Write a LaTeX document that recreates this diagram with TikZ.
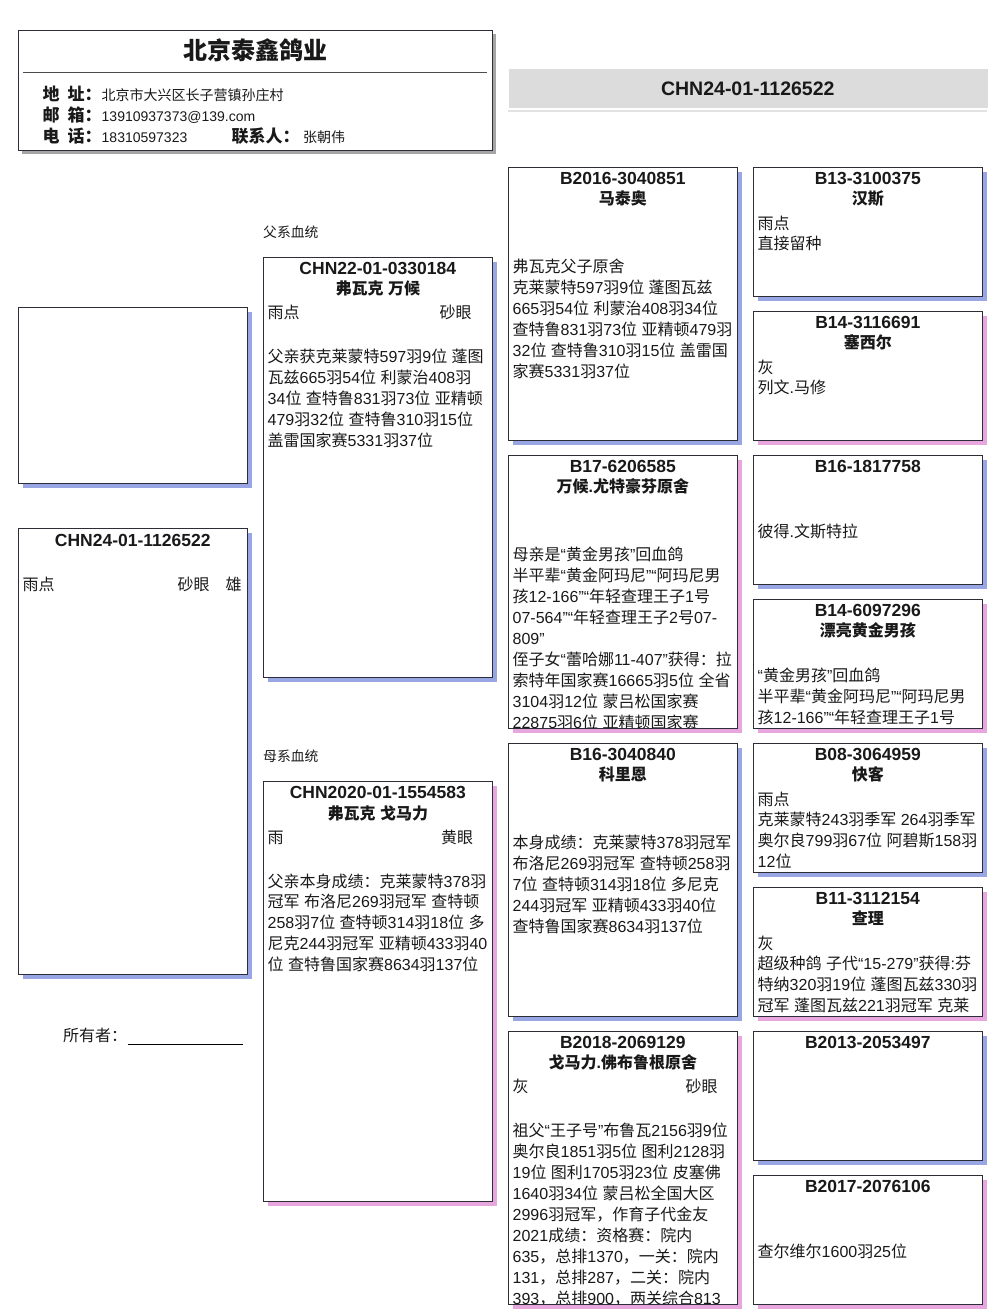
\documentclass[tikz,border=0pt]{standalone}
\usepackage{fontspec}
\setmainfont{Liberation Sans}
\newfontfamily\cjkfont{Noto Sans CJK SC}
\usetikzlibrary{shadows}
\XeTeXinterchartokenstate=1
\newXeTeXintercharclass\cjkcls
\newcount\cjkc
\cjkc="3000
\loop\XeTeXcharclass\cjkc=\cjkcls\ifnum\cjkc<"303F \advance\cjkc by 1 \repeat
\cjkc="4E00
\loop\XeTeXcharclass\cjkc=\cjkcls\ifnum\cjkc<"9FFF \advance\cjkc by 1 \repeat
\cjkc="FF00
\loop\XeTeXcharclass\cjkc=\cjkcls\ifnum\cjkc<"FFEF \advance\cjkc by 1 \repeat
\XeTeXinterchartoks 0 \cjkcls = {\cjkfont}
\XeTeXinterchartoks 4095 \cjkcls = {\cjkfont}
\XeTeXinterchartoks \cjkcls 0 = {\rmfamily}
\XeTeXinterchartoks \cjkcls 4095 = {\rmfamily}
\definecolor{shblue}{RGB}{152,166,228}
\definecolor{shpink}{RGB}{232,166,222}
\definecolor{shgray}{RGB}{165,165,165}
\definecolor{bordercol}{RGB}{45,45,55}
\definecolor{barfill}{RGB}{220,220,220}
\definecolor{barline}{RGB}{226,226,226}
\definecolor{txt}{RGB}{25,25,25}
\tikzset{
  pbox/.style={draw=bordercol, line width=0.9pt, fill=white, anchor=north west, inner sep=0pt, outer sep=0pt},
  boxline/.style={draw=bordercol, line width=0.9pt},
  bsh/.style={drop shadow={shadow xshift=4.5pt, shadow yshift=-4.5pt, fill=shblue, opacity=1}},
  psh/.style={drop shadow={shadow xshift=4.5pt, shadow yshift=-4.5pt, fill=shpink, opacity=1}},
  gsh/.style={drop shadow={shadow xshift=4pt, shadow yshift=-4.5pt, fill=shgray, opacity=1}},
  idtxt/.style={anchor=base, inner sep=0pt, text=txt, font=\bfseries\fontsize{17.5}{21}\selectfont},
  nametxt/.style={anchor=base, inner sep=0pt, text=txt, font=\bfseries\fontsize{16}{21}\selectfont},
  bodytxt/.style={anchor=base west, inner sep=0pt, text=txt, font=\fontsize{16}{20.9}\selectfont},
  para/.style={anchor=north west, inner sep=0pt, align=left, text=txt, font=\fontsize{16}{20.9}\selectfont},
  hlabel/.style={anchor=base west, inner sep=0pt, text=txt, font={\bfseries\fontsize{17}{20}\selectfont\spaceskip=8pt}},
  hvalue/.style={anchor=base west, inner sep=0pt, text=txt, font=\fontsize{14}{17}\selectfont},
  side/.style={anchor=base west, inner sep=0pt, text=txt, font=\fontsize{13.8}{17}\selectfont},
}
\begin{document}
\begin{tikzpicture}[x=1pt,y=-1pt]
\useasboundingbox (0,0) rectangle (1006,1316);
% header
\node[pbox,gsh,minimum width=474pt,minimum height=120pt] (hdr) at (18.3,30) {};
\node[anchor=base, inner sep=0pt, text=txt, font=\bfseries\fontsize{24}{28}\selectfont] (hdrtitle) at (255.5,59.7) {北京泰鑫鸽业};
\draw[draw=black!70, line width=0.8pt] (23.3,72.7) -- (487.3,72.7);
\node[hlabel] (l1) at (42.5,100.5) {地 址：};
\node[hvalue] (v1) at (101.5,100.5) {北京市大兴区长子营镇孙庄村};
\node[hlabel] (l2) at (42.5,121.6) {邮 箱：};
\node[hvalue] (v2) at (101.5,121.6) {13910937373@139.com};
\node[hlabel] (l3) at (42.5,142.2) {电 话：};
\node[hvalue] (v3) at (101.5,142.2) {18310597323};
\node[hlabel] (l4) at (231.5,142.2) {联系人：};
\node[hvalue] (v4) at (303,142.2) {张朝伟};
% title bar
\node[fill=barfill, anchor=north west, minimum width=479pt, minimum height=39pt, inner sep=0pt] (bar) at (508.3,69.3) {};
\draw[draw=barline, line width=1.8pt] (508.3,110.8) -- (987.3,110.8);
\node[anchor=base, inner sep=0pt, text=txt, font=\bfseries\fontsize{19.5}{23}\selectfont] (bartxt) at (747.8,95.8) {CHN24-01-1126522};
% side labels
\node[side] (fx) at (263,237.9) {父系血统};
\node[side] (mx) at (263,761.8) {母系血统};
\node[anchor=base west, inner sep=0pt, text=txt, font=\fontsize{16}{20}\selectfont] (owner) at (63,1041.8) {所有者：};
\draw[draw=black, line width=0.8pt] (127.7,1044.3) -- (242.7,1044.3);
% boxes
\node[pbox,bsh,minimum width=229pt,minimum height=176pt] (A) at (18.3,307.3) {};
\node[pbox,bsh,minimum width=229pt,minimum height=446pt] (B) at (18.3,528.7) {};
\node[pbox,bsh,minimum width=229pt,minimum height=420pt] (C) at (263.3,257.3) {};
\node[pbox,psh,minimum width=229pt,minimum height=420pt] (D) at (263.3,781.5) {};
\node[pbox,bsh,minimum width=229pt,minimum height=273pt] (E) at (508.3,167.3) {};
\node[pbox,psh,minimum width=229pt,minimum height=273pt] (F) at (508.3,455.3) {};
\node[pbox,bsh,minimum width=229pt,minimum height=273pt] (G) at (508.3,743.3) {};
\node[pbox,psh,minimum width=229pt,minimum height=273pt] (H) at (508.3,1031.3) {};
\node[pbox,bsh,minimum width=229pt,minimum height=129pt] (I) at (753.3,167.3) {};
\node[pbox,psh,minimum width=229pt,minimum height=129pt] (J) at (753.3,311.3) {};
\node[pbox,bsh,minimum width=229pt,minimum height=129pt] (K) at (753.3,455.3) {};
\node[pbox,psh,minimum width=229pt,minimum height=129pt] (L) at (753.3,599.3) {};
\node[pbox,bsh,minimum width=229pt,minimum height=129pt] (M) at (753.3,743.3) {};
\node[pbox,psh,minimum width=229pt,minimum height=129pt] (N) at (753.3,887.3) {};
\node[pbox,bsh,minimum width=229pt,minimum height=129pt] (O) at (753.3,1031.3) {};
\node[pbox,psh,minimum width=229pt,minimum height=129pt] (P) at (753.3,1175.3) {};
% B
\node[idtxt] (Bid) at (132.8,546.3) {CHN24-01-1126522};
\node[bodytxt] (Bc) at (22.5,590.2) {雨点};
\node[bodytxt] (Be) at (177.5,590.2) {砂眼};
\node[bodytxt] (Bx) at (225.5,590.2) {雄};
% C
\node[idtxt] (Cid) at (377.8,274.6) {CHN22-01-0330184};
\node[nametxt] (Cn) at (377.8,294.8) {弗瓦克 万候};
\node[bodytxt] (Cc) at (267.5,318.8) {雨点};
\node[bodytxt] (Ce) at (439.5,318.8) {砂眼};
\node[para] (Cp) at (267.5,348.0) {\strut 父亲获克莱蒙特597羽9位 蓬图\\瓦兹665羽54位 利蒙治408羽\\34位 查特鲁831羽73位 亚精顿\\479羽32位 查特鲁310羽15位\\盖雷国家赛5331羽37位};
% D
\node[idtxt] (Did) at (377.8,798.8) {CHN2020-01-1554583};
\node[nametxt] (Dn) at (377.8,819.0) {弗瓦克 戈马力};
\node[bodytxt] (Dc) at (267.5,843.0) {雨};
\node[bodytxt] (De) at (441,843.0) {黄眼};
\node[para] (Dp) at (267.5,872.2) {\strut 父亲本身成绩：克莱蒙特378羽\\冠军 布洛尼269羽冠军 查特顿\\258羽7位 查特顿314羽18位 多\\尼克244羽冠军 亚精顿433羽40\\位 查特鲁国家赛8634羽137位};
% E
\node[idtxt] (Eid) at (622.8,184.6) {B2016-3040851};
\node[nametxt] (En) at (622.8,204.8) {马泰奥};
\node[para] (Ep) at (512.5,258.0) {\strut 弗瓦克父子原舍\\克莱蒙特597羽9位 蓬图瓦兹\\665羽54位 利蒙治408羽34位\\查特鲁831羽73位 亚精顿479羽\\32位 查特鲁310羽15位 盖雷国\\家赛5331羽37位};
% F
\node[idtxt] (Fid) at (622.8,472.6) {B17-6206585};
\node[nametxt] (Fn) at (622.8,492.8) {万候.尤特豪芬原舍};
\begin{scope}
\clip (F.north west) rectangle (F.south east);
\node[para] (Fp) at (512.5,546.0) {\strut 母亲是“黄金男孩”回血鸽\\半平辈“黄金阿玛尼”“阿玛尼男\\孩12-166”“年轻查理王子1号\\07-564”“年轻查理王子2号07-\\809”\\侄子女“蕾哈娜11-407”获得：拉\\索特年国家赛16665羽5位 全省\\3104羽12位 蒙吕松国家赛\\22875羽6位 亚精顿国家赛};
\end{scope}
\draw[boxline] (F.north west) rectangle (F.south east);
% G
\node[idtxt] (Gid) at (622.8,760.6) {B16-3040840};
\node[nametxt] (Gn) at (622.8,780.8) {科里恩};
\node[para] (Gp) at (512.5,834.0) {\strut 本身成绩：克莱蒙特378羽冠军\\布洛尼269羽冠军 查特顿258羽\\7位 查特顿314羽18位 多尼克\\244羽冠军 亚精顿433羽40位\\查特鲁国家赛8634羽137位};
% H
\node[idtxt] (Hid) at (622.8,1048.6) {B2018-2069129};
\node[nametxt] (Hn) at (622.8,1068.8) {戈马力.佛布鲁根原舍};
\node[bodytxt] (Hc) at (512.5,1092.8) {灰};
\node[bodytxt] (He) at (685.5,1092.8) {砂眼};
\begin{scope}
\clip (H.north west) rectangle (H.south east);
\node[para] (Hp) at (512.5,1122.0) {\strut 祖父“王子号”布鲁瓦2156羽9位\\奥尔良1851羽5位 图利2128羽\\19位 图利1705羽23位 皮塞佛\\1640羽34位 蒙吕松全国大区\\2996羽冠军，作育子代金友\\2021成绩：资格赛：院内\\635，总排1370，一关：院内\\131，总排287，二关：院内\\393，总排900，两关综合813};
\end{scope}
\draw[boxline] (H.north west) rectangle (H.south east);
% I
\node[idtxt] (Iid) at (867.8,184.6) {B13-3100375};
\node[nametxt] (In) at (867.8,204.8) {汉斯};
\node[para] (Ip) at (757.5,214.2) {\strut 雨点\\直接留种};
% J
\node[idtxt] (Jid) at (867.8,328.6) {B14-3116691};
\node[nametxt] (Jn) at (867.8,348.8) {塞西尔};
\node[para] (Jp) at (757.5,358.2) {\strut 灰\\列文.马修};
% K
\node[idtxt] (Kid) at (867.8,472.6) {B16-1817758};
\node[bodytxt] (Kc) at (757.5,537.7) {彼得.文斯特拉};
% L
\node[idtxt] (Lid) at (867.8,616.6) {B14-6097296};
\node[nametxt] (Ln) at (867.8,636.8) {漂亮黄金男孩};
\begin{scope}
\clip (L.north west) rectangle (L.south east);
\node[para] (Lp) at (757.5,667.1) {\strut “黄金男孩”回血鸽\\半平辈“黄金阿玛尼”“阿玛尼男\\孩12-166”“年轻查理王子1号};
\end{scope}
\draw[boxline] (L.north west) rectangle (L.south east);
% M
\node[idtxt] (Mid) at (867.8,760.6) {B08-3064959};
\node[nametxt] (Mn) at (867.8,780.8) {快客};
\node[para] (Mp) at (757.5,790.2) {\strut 雨点\\克莱蒙特243羽季军 264羽季军\\奥尔良799羽67位 阿碧斯158羽\\12位};
% N
\node[idtxt] (Nid) at (867.8,904.6) {B11-3112154};
\node[nametxt] (Nn) at (867.8,924.8) {查理};
\begin{scope}
\clip (N.north west) rectangle (N.south east);
\node[para] (Np) at (757.5,934.2) {\strut 灰\\超级种鸽 子代“15-279”获得:芬\\特纳320羽19位 蓬图瓦兹330羽\\冠军 蓬图瓦兹221羽冠军 克莱};
\end{scope}
\draw[boxline] (N.north west) rectangle (N.south east);
% O
\node[idtxt] (Oid) at (867.8,1048.6) {B2013-2053497};
% P
\node[idtxt] (Pid) at (867.8,1192.6) {B2017-2076106};
\node[bodytxt] (Pc) at (757.5,1257.7) {查尔维尔1600羽25位};
\end{tikzpicture}
\end{document}
